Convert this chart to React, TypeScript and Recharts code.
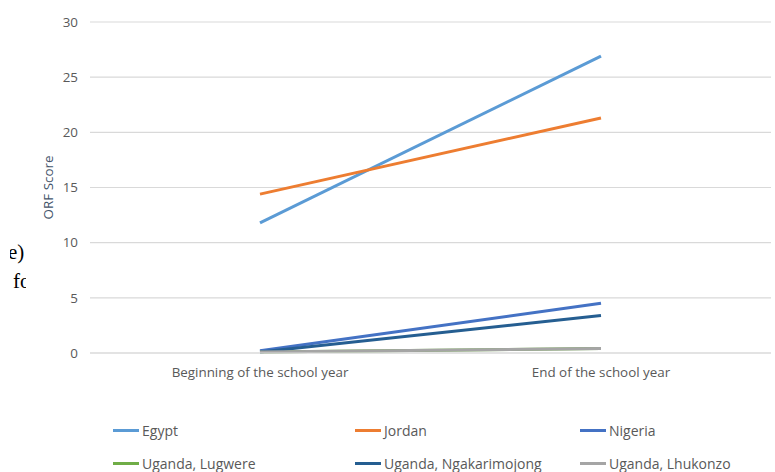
import React from 'react';
import { LineChart, Line, XAxis, YAxis, CartesianGrid, Legend, Label } from 'recharts';

const periods = ['Beginning of the school year', 'End of the school year'];

const egypt = [11.8, 26.9];
const jordan = [14.4, 21.3];
const nigeria = [0.2, 4.5];
const lugwere = [0.1, 0.4];
const ngakarimojong = [0.1, 3.4];
const lhukonzo = [0.1, 0.4];

const yTicks = [0, 5, 10, 15, 20, 25, 30];

const series = [
  { key: 'Egypt', values: egypt, color: '#5B9BD5' },
  { key: 'Jordan', values: jordan, color: '#ED7D31' },
  { key: 'Nigeria', values: nigeria, color: '#4472C4' },
  { key: 'Uganda, Lugwere', values: lugwere, color: '#70AD47' },
  { key: 'Uganda, Ngakarimojong', values: ngakarimojong, color: '#255E91' },
  { key: 'Uganda, Lhukonzo', values: lhukonzo, color: '#A5A5A5' },
];

const data = periods.map((period, i) => {
  const row: Record<string, any> = { period };
  series.forEach((s) => {
    row[s.key] = s.values[i];
  });
  return row;
});

const font = '"Open Sans", sans-serif';
const textColor = '#595959';
const fontSize = 13.4;

// legend laid out in a 3 x 2 grid like the office chart
const legendCols = [113, 355, 580];
const legendRows = [37, 70];

const renderLegend = () => (
  <div style={{ position: 'relative', width: 775, height: 79 }}>
    {series.map((s, i) => {
      const col = i % 3;
      const row = Math.floor(i / 3);
      return (
        <div
          key={s.key}
          style={{
            position: 'absolute',
            left: legendCols[col],
            top: legendRows[row] - 10,
            height: 20,
            display: 'flex',
            alignItems: 'center',
            fontFamily: font,
            fontSize: 14,
            color: textColor,
            whiteSpace: 'nowrap',
          }}
        >
          <span style={{ display: 'inline-block', width: 26, height: 3, background: s.color, marginRight: 3 }} />
          {s.key}
        </div>
      );
    })}
  </div>
);

const App: React.FC = () => {
  return (
    <div style={{ position: 'absolute', left: 0, top: 0, width: 775, height: 472, background: '#fff', overflow: 'hidden' }}>
      {/* bits of the surrounding page text */}
      <div style={{ position: 'absolute', left: 10, top: 238, width: 16, height: 60, overflow: 'hidden', fontFamily: '"Liberation Serif", serif', fontSize: 21, color: '#000', lineHeight: '29px' }}>
        <div style={{ marginLeft: -2 }}>e)</div>
        <div style={{ marginLeft: 3 }}>fo</div>
      </div>
      <LineChart
        width={775}
        height={472}
        data={data}
        margin={{ top: 22, right: 4, bottom: 0, left: 0 }}
        style={{ position: 'absolute', left: 0, top: 0 }}
      >
        <CartesianGrid vertical={false} stroke="#d9d9d9" strokeWidth={1.2} />
        <XAxis
          dataKey="period"
          height={40}
          padding={{ left: 170, right: 170 }}
          axisLine={{ stroke: '#d9d9d9', strokeWidth: 1.2 }}
          tickLine={false}
          tickSize={0}
          tickMargin={14}
          tick={{ fill: textColor, fontSize, fontFamily: font }}
        />
        <YAxis
          width={90}
          domain={[0, 30]}
          ticks={yTicks}
          axisLine={false}
          tickLine={false}
          tickSize={0}
          tickMargin={12}
          tick={{ fill: textColor, fontSize, fontFamily: font }}
        >
          <Label
            value="ORF Score"
            angle={-90}
            position="insideLeft"
            offset={48}
            style={{ fill: '#44546A', fontSize, fontFamily: font, textAnchor: 'middle' }}
          />
        </YAxis>
        <Legend
          verticalAlign="bottom"
          height={79}
          content={renderLegend}
          wrapperStyle={{ left: 0, width: 775 }}
        />
        {series.map((s) => (
          <Line
            key={s.key}
            type="linear"
            dataKey={s.key}
            stroke={s.color}
            strokeWidth={3}
            dot={false}
            activeDot={false}
            isAnimationActive={false}
          />
        ))}
      </LineChart>
    </div>
  );
};

export default App;
